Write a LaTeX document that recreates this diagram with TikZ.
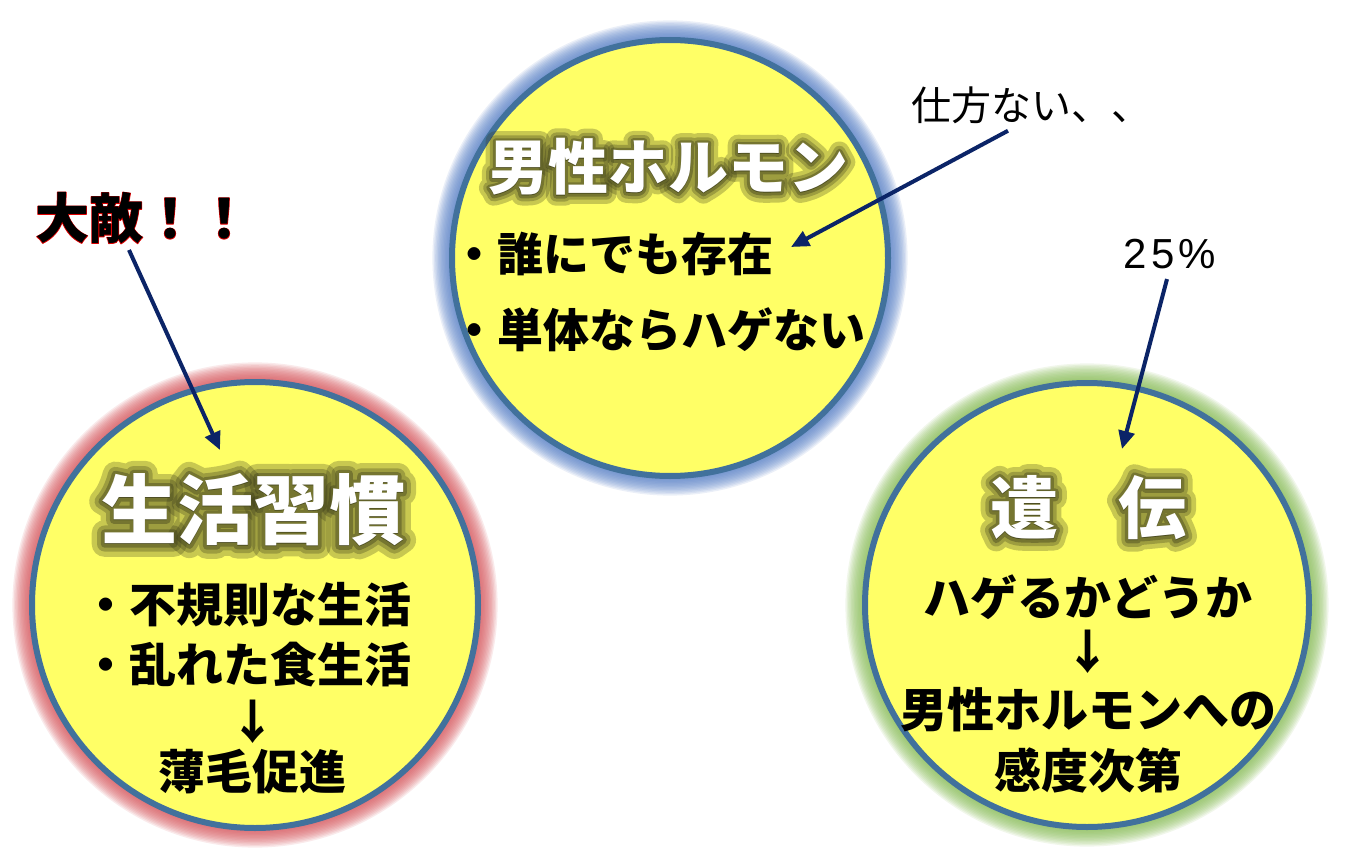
\documentclass[tikz,border=0pt]{standalone}
\usepackage{fontspec}
\newfontfamily\jp{Noto Sans CJK JP}
\newfontfamily\jpglowA{Noto Sans CJK JP}[FakeBold=10]
\newfontfamily\jpglowB{Noto Sans CJK JP}[FakeBold=20]
\newfontfamily\jpglowC{Noto Sans CJK JP}[FakeBold=34]
\newfontfamily\jpline{Noto Sans CJK JP}[FakeBold=2]
\newfontfamily\lat{Liberation Sans}
\usetikzlibrary{arrows.meta,calc}
\definecolor{discyellow}{HTML}{FFFF66}
\definecolor{ringblue}{HTML}{41719C}
\definecolor{glowred}{HTML}{D9595F}
\definecolor{glowblue}{HTML}{5B83C9}
\definecolor{glowgreen}{HTML}{8CBF5A}
\definecolor{navy}{HTML}{0B2467}
\definecolor{alertred}{HTML}{E00000}
\definecolor{olive}{HTML}{3A3B1A}
\tikzset{
  disc/.style={circle, draw=ringblue, line width=6pt, fill=discyellow, inner sep=0pt},
  titlefont/.style={font=\jp\bfseries\fontsize{#1}{#1}\selectfont, inner sep=0pt},
  bodytext/.style={font=\jp\bfseries\fontsize{#1}{#1}\selectfont, inner sep=0pt, text=black},
  notetext/.style={font=\jp\fontsize{#1}{#1}\selectfont, inner sep=0pt, text=black},
  glowcopy/.style={inner sep=0pt, text=olive, line join=round, line cap=round},
  arr/.style={draw=navy, line width=4pt, -{Triangle[length=18pt,width=16pt]}},
}
\newcommand\discglow[3]{%
  \foreach \i in {1,...,14}{\draw[#3, opacity=0.12, line width=\i*2.8pt] (#1) circle[radius=#2pt];}}
\newcommand\glowtitle[4]{%
  \node[glowcopy, font=\jpglowC\bfseries\fontsize{#3}{#3}\selectfont, opacity=0.28] (#1-gc) at (#2) {#4};
  \node[glowcopy, font=\jpglowB\bfseries\fontsize{#3}{#3}\selectfont, opacity=0.3] (#1-gb) at (#2) {#4};
  \node[glowcopy, font=\jpglowA\bfseries\fontsize{#3}{#3}\selectfont, opacity=0.4] (#1-ga) at (#2) {#4};
  \node[titlefont={#3}, text=white] (#1) at (#2) {#4};}
\begin{document}
\begin{tikzpicture}[x=1pt,y=-1pt]
\useasboundingbox (0,0) rectangle (1347,856);
\fill[white] (0,0) rectangle (1347,856);

% glows
\discglow{670,258}{218}{glowblue}
\discglow{255,605}{223}{glowred}
\discglow{1087,605}{222}{glowgreen}

% discs
\node[disc, minimum size=436pt] (hormone) at (670,258) {};
\node[disc, minimum size=446pt] (habit) at (255,605) {};
\node[disc, minimum size=444pt] (gene) at (1087,605) {};

% titles
\glowtitle{thormone}{668,167}{60}{男性ホルモン}
\glowtitle{thabit}{253,510}{76}{生活習慣}
\glowtitle{tgene}{1088,508}{68}{遺\kern-4pt　\kern-4pt伝}

% top disc body
\node[bodytext=46, anchor=west] (h1) at (451,254) {・誰にでも存在};
\node[bodytext=46, anchor=west] (h2) at (451,330) {・単体ならハゲない};

% left disc body
\node[bodytext=47] (l1) at (247,605) {・不規則な生活};
\node[bodytext=47] (l2) at (247,665) {・乱れた食生活};
\node[bodytext=47] (l3) at (253,722) {↓};
\node[bodytext=47] (l4) at (252,772) {薄毛促進};

% right disc body
\node[bodytext=47] (r1) at (1088,597) {ハゲるかどうか};
\node[bodytext=47] (r2) at (1088,652) {↓};
\node[bodytext=47] (r3) at (1088,710) {男性ホルモンへの};
\node[bodytext=47] (r4) at (1088,770) {感度次第};

% annotations
\node[font=\jpline\bfseries\fontsize{54}{54}\selectfont, inner sep=0pt, text=alertred, line join=round] (taiteki-outline) at (143,218) {大敵！！};
\node[titlefont=54, text=black] (taiteki) at (143,218) {大敵！！};
\node[notetext=40] (shikata) at (1031,105) {仕方ない、、};
\node[font=\lat\fontsize{42}{42}\selectfont, inner sep=0pt] (pct) at (1170,254) {2\kern4pt5\kern4pt\%};

% arrows
\coordinate (tipA) at (220,450);
\coordinate (tipB) at (791,247);
\coordinate (tipC) at (1122,449);
\draw[arr] ([xshift=-14pt,yshift=-6pt]taiteki.south) -- (tipA);
\draw[arr] ([xshift=-23pt,yshift=-7pt]shikata.south) -- (tipB);
\draw[arr] ([xshift=-3pt,yshift=-10pt]pct.south) -- (tipC);
\end{tikzpicture}
\end{document}
